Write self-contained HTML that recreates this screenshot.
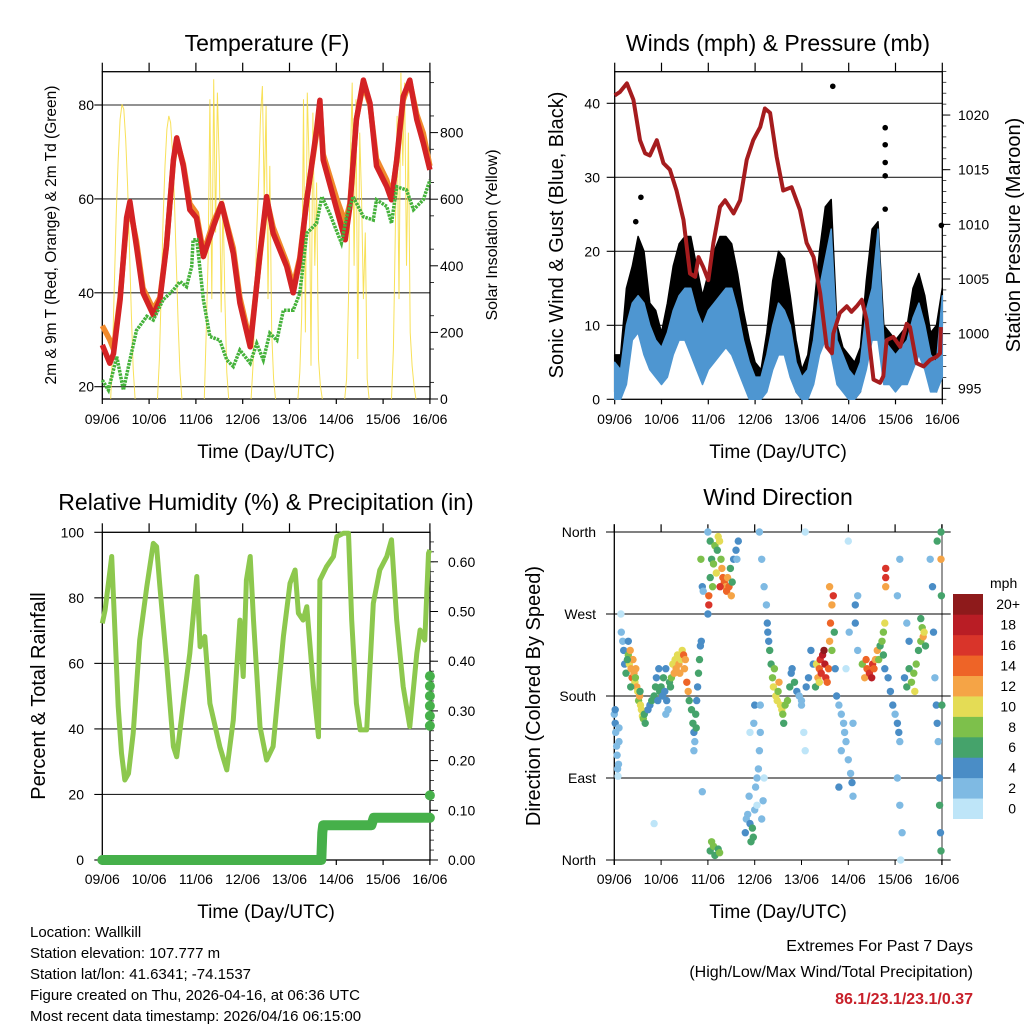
<!DOCTYPE html>
<html><head><meta charset="utf-8"><style>
html,body{margin:0;padding:0;background:#fff;}
svg text{font-family:"Liberation Sans",Arial,sans-serif;fill:#000;}
</style></head><body>
<svg id="s" width="1024" height="1024" viewBox="0 0 1024 1024" xmlns="http://www.w3.org/2000/svg">
<text x="267" y="51" font-size="23" text-anchor="middle">Temperature (F)</text>
<text x="778" y="51" font-size="23" text-anchor="middle">Winds (mph) &amp; Pressure (mb)</text>
<text x="266" y="510" font-size="23" text-anchor="middle">Relative Humidity (%) &amp; Precipitation (in)</text>
<text x="778" y="505" font-size="23" text-anchor="middle">Wind Direction</text>
<text x="266" y="458" font-size="19" text-anchor="middle">Time (Day/UTC)</text>
<text x="778" y="458" font-size="19" text-anchor="middle">Time (Day/UTC)</text>
<text x="266" y="918" font-size="19" text-anchor="middle">Time (Day/UTC)</text>
<text x="778" y="918" font-size="19" text-anchor="middle">Time (Day/UTC)</text>
<text transform="translate(56,235) rotate(-90)" font-size="15.5" text-anchor="middle">2m &amp; 9m T (Red, Orange) &amp; 2m Td (Green)</text>
<text transform="translate(497,235) rotate(-90)" font-size="16" text-anchor="middle">Solar Insolation (Yellow)</text>
<text transform="translate(563,235) rotate(-90)" font-size="20" text-anchor="middle">Sonic Wind &amp; Gust (Blue, Black)</text>
<text transform="translate(1020,235) rotate(-90)" font-size="20" text-anchor="middle">Station Pressure (Maroon)</text>
<text transform="translate(45,696) rotate(-90)" font-size="20" text-anchor="middle">Percent &amp; Total Rainfall</text>
<text transform="translate(540,696) rotate(-90)" font-size="20" text-anchor="middle">Direction (Colored By Speed)</text>
<g font-size="15">
<text x="30" y="937">Location: Wallkill</text>
<text x="30" y="958">Station elevation: 107.777 m</text>
<text x="30" y="979">Station lat/lon: 41.6341; -74.1537</text>
<text x="30" y="1000">Figure created on Thu, 2026-04-16, at 06:36 UTC</text>
<text x="30" y="1021">Most recent data timestamp: 2026/04/16 06:15:00</text>
</g>
<g font-size="16" text-anchor="end">
<text x="973" y="951">Extremes For Past 7 Days</text>
<text x="973" y="977">(High/Low/Max Wind/Total Precipitation)</text>
<text x="973" y="1004" font-weight="bold" style="fill:#C8202A">86.1/23.1/23.1/0.37</text>
</g>
</svg>
<script>
// ---- data ----
const dayLabels=["09/06","10/06","11/06","12/06","13/06","14/06","15/06","16/06"];
const tDays=[0,0.16,0.24,0.38,0.52,0.59,0.73,0.87,1.09,1.23,1.37,1.52,1.59,1.73,1.87,2.01,2.16,2.37,2.55,2.80,2.94,3.16,3.23,3.37,3.51,3.65,3.94,4.08,4.22,4.37,4.58,4.65,4.72,5.01,5.19,5.29,5.43,5.58,5.72,5.86,6.08,6.18,6.29,6.43,6.57,6.72,6.86,7.0];
const tRed=[28.9,25,27,38.5,56,59.4,49.8,40,35.3,38.5,49.8,68.3,73,67,57.7,56,47.7,54,59,48.4,37.8,28.5,35,48.4,60.5,52.7,45.6,40,47,59.8,74.7,81,68.3,57.7,51.3,58.4,76.9,85.3,80.4,67,62.6,59.8,68.3,81.8,85.3,76.9,71.9,66.2];
const tOrange=[33,30,28,39,55,58,51,41,36.5,39,50,68,72.5,67.5,59,57,48.5,55,59,49.5,39,29.5,35.5,48,60,54,46.5,41.5,47.5,60,74,80,69.5,60,55,59,77,84.5,80,68.5,64,60.5,68,81,85,78,74,67];
const tdDays=[0,0.13,0.31,0.45,0.59,0.73,0.95,1.09,1.30,1.52,1.66,1.80,1.91,1.94,2.02,2.16,2.30,2.51,2.66,2.80,2.94,3.16,3.30,3.44,3.58,3.73,3.87,4.08,4.22,4.37,4.58,4.69,4.86,5.11,5.22,5.36,5.58,5.79,5.86,6.08,6.18,6.29,6.50,6.65,6.86,7.0];
const tdVals=[21.4,19.3,26.4,19.3,25.7,32,35,34.2,38.5,40.6,42.4,41.3,45.6,51.3,51.3,38.5,30.7,29.9,25.7,24.3,27.8,25,29.2,25.7,31.4,29.9,36.3,36.3,39.9,52.7,54.8,60.5,56.9,50.6,56.2,60.5,56.2,55.5,59.8,58.4,54.8,62.6,61.9,57.7,59.8,64];
const solarFrac=[0.18,0.22,0.26,0.30,0.34,0.38,0.42,0.46,0.50,0.54,0.58,0.62,0.66,0.70];
const solarD0=[0,150,360,560,720,840,885,870,780,640,460,260,90,0];
const solarD1=[0,120,330,540,700,810,850,830,740,600,420,230,80,0];
const solarD2=[0,200,420,900,300,960,500,920,700,260,600,300,80,0];
const solarD3=[0,100,280,500,650,850,940,600,880,300,700,200,60,0];
const solarD4=[0,80,250,900,200,920,700,100,860,400,650,120,40,0];
const solarD5=[0,60,300,700,950,400,900,120,800,600,300,500,60,0];
const solarD6=[0,150,500,850,300,980,700,950,400,800,200,100,40,0];
const presDays=[0,.11,.26,.40,.54,.65,.75,.90,1.04,1.18,1.32,1.47,1.61,1.72,1.79,1.89,2.00,2.11,2.25,2.36,2.54,2.68,2.82,2.96,3.11,3.21,3.32,3.46,3.60,3.78,3.96,4.10,4.25,4.39,4.53,4.64,4.67,4.81,4.96,5.06,5.17,5.28,5.38,5.53,5.67,5.74,5.81,5.95,6.10,6.24,6.31,6.45,6.60,6.74,6.88,6.95,6.97];
const presVals=[1021.8,1022.1,1022.9,1021.4,1017.7,1016.5,1016.3,1017.7,1015.6,1015,1013.1,1010.4,1005.5,1005.2,1007,1006.1,1004.9,1008.3,1011.6,1012.2,1011,1012.2,1015.9,1017.7,1018.9,1020.6,1020.2,1016.2,1013.1,1013.4,1011.3,1008.3,1007,1003.7,998.8,998.2,1000,1001.9,1002.5,1002,1002.5,1003.1,1001.3,995.8,995.5,996.1,999.4,999.7,998.8,1000.9,1000.6,997.3,997,997.6,997.9,998.2,1000.6];
// 3-hourly wind samples
const windMin=[0,0,2,8,9,6,4,3,2,3,6,8,8,6,4,2,4,5,6,7,6,4,2,0,0,0,1,4,6,6,3,1,0,0,2,6,8,6,2,1,0,0,1,4,8,8,2,2,1,2,2,4,6,4,1,1,3];
const windMax=[5,4,10,13,14,13,10,8,7,9,12,14,15,15,12,10,12,13,14,15,15,12,8,5,3,3,6,10,13,12,10,5,3,4,8,15,19,23,8,6,4,3,5,12,15,23,8,7,6,7,8,11,13,10,6,5,14];
const gustMax=[6,6,15,18,22,20,13,12,9,13,18,21,22,22,18,14,17,20,22,22,21,17,12,8,5,4,9,16,20,19,14,8,4,6,12,20,26,27,10,7,6,5,7,16,23,24,10,9,8,9,10,15,17,14,9,10,15];
const gustOutDays=[4.66,5.78,5.78,5.78,5.78,5.78,0.56,6.98,0.45];
const gustOutVals=[42.3,36.7,34.4,32,30.2,25.7,27.3,23.5,24];
const rhDays=[0,.06,.13,.20,.27,.34,.41,.48,.56,.66,.80,.95,1.09,1.16,1.23,1.37,1.52,1.59,1.73,1.87,2.02,2.09,2.19,2.30,2.51,2.66,2.80,2.94,3.01,3.08,3.16,3.23,3.37,3.51,3.65,3.87,4.01,4.12,4.19,4.29,4.37,4.51,4.62,4.65,4.79,4.94,5.01,5.15,5.26,5.33,5.43,5.51,5.65,5.79,5.93,6.08,6.18,6.29,6.43,6.57,6.72,6.79,6.89,6.97,7.0];
const rhVals=[72.2,76.3,84.4,92.6,70.2,46.8,32.6,24.4,26.4,38.7,67.1,83.4,96.6,95.6,83.4,61,34.6,31.5,47.8,63,86.5,65.1,68.2,47.8,34.6,27.5,42.7,73.2,56,85.4,92.6,73.2,40.7,30.5,34.6,68.2,84.4,88.5,75.3,73.2,77.3,52.9,37.6,85.4,89.5,92.6,98.7,99.7,99.7,73.2,47.8,39.7,39.7,78.3,88.5,92.6,97.7,73.2,52.9,40.7,63,70.2,67.1,93.6,94.6];
const rainDays=[0,4.68,4.70,4.72,5.75,5.80,7.0];
const rainVals=[0,0,0.055,0.07,0.07,0.085,0.085];
const rainEndVals=[0.13,0.27,0.29,0.31,0.33,0.35,0.37];
const speedColors=["#BEE5F8","#7FBAE3","#4A8DC6","#45A36B","#7DC04B","#E4DC55","#F5A446","#EE6427","#D9342A","#B91D25","#8E1A1B"];
const cbLabels=["0","2","4","6","8","10","12","14","16","18","20+"];
const dirPts=[[0,160,3],[.02,150,4],[.03,140,3],[.05,125,2],[.06,115,2],[.07,100,2],[.08,92,1],[.09,105,2],[.1,130,2],[.1,145,3],[.02,165,4],[.14,270,1],[.15,250,2],[.18,240,3],[.2,230,4],[.22,215,5],[.25,205,6],
[.3,225,8],[.32,215,10],[.34,230,12],[.36,210,12],[.38,200,14],[.4,220,13],[.42,205,12],[.44,195,11],[.46,210,13],[.48,190,12],[.5,185,10],[.52,175,9],[.54,180,12],[.56,170,11],[.58,165,10],[.6,158,10],[.62,155,9],[.64,160,7],[.66,150,7],[.35,190,6],[.45,200,8],[.55,185,7],[.3,240,5],[.28,220,6],
[.72,165,5],[.76,170,4],[.8,175,6],[.85,180,7],[.88,190,6],[.9,200,4],[.93,175,5],[.97,185,6],[1.0,190,7],[1.03,180,5],[1.05,200,6],[1.08,185,4],[1.1,210,4],[1.12,175,5],[1.15,165,3],[1.18,195,6],[1.2,190,7],[.95,210,4],[1.1,160,3],[.85,40,1],
[1.22,200,8],[1.25,215,10],[1.28,205,12],[1.3,220,11],[1.32,210,12],[1.35,225,10],[1.38,215,12],[1.4,205,13],[1.42,220,11],[1.45,230,10],[1.48,225,14],[1.5,210,13],[1.52,220,12],[1.55,195,14],[1.58,185,13],[1.6,175,7],
[1.65,165,6],[1.68,150,6],[1.7,140,5],[1.72,130,3],[1.74,160,7],[1.76,175,4],[1.78,190,5],[1.8,205,6],[1.82,220,7],[1.84,235,5],[1.86,240,4],[1.75,145,7],[1.7,120,2],[1.85,330,8],[1.88,300,4],[1.9,295,2],[1.88,75,3],
[2.0,360,3],[2.05,350,6],[2.08,330,7],[2.1,300,8],[2.05,310,6],[2.02,290,14],[2.02,280,16],[2.0,270,4],[2.15,345,8],[2.2,340,7],[2.22,355,10],[2.25,350,10],[2.28,330,9],[2.3,320,12],[2.32,310,15],[2.35,305,14],[2.38,300,12],[2.4,295,14],[2.42,310,13],[2.45,300,14],[2.5,290,12],[2.48,320,7],[2.12,325,9],[2.18,315,10],[2.26,300,17],[2.52,305,6],[2.55,330,5],[2.6,340,4],[2.65,350,4],[2.62,330,3],
[2.05,10,7],[2.08,20,8],[2.12,15,8],[2.15,5,7],[2.22,12,7],[2.25,8,8],
[2.8,30,4],[2.82,45,3],[2.85,50,2],[2.88,70,3],[2.9,40,5],[2.92,20,6],[2.95,35,7],[2.97,25,6],[3.0,55,2],[3.02,80,2],[3.05,90,3],[3.08,100,2],[3.1,120,2],[3.12,140,2],[3.05,60,1],[3.15,45,2],[3.18,65,2],[2.98,150,2],[3.0,170,4],[2.9,140,1],[3.2,90,1],[3.12,170,2],
[3.1,360,2],[3.15,330,2],[3.2,300,3],[3.25,280,3],[3.27,260,4],[3.3,240,4],[3.32,230,6],[3.28,250,5],
[3.35,215,7],[3.38,200,8],[3.4,190,10],[3.45,180,11],[3.48,175,10],[3.5,185,9],[3.55,170,10],[3.58,165,11],[3.6,160,8],[3.62,150,7],[3.65,170,9],[3.7,175,8],[3.75,190,6],[3.78,205,5],[3.8,210,4],[3.85,195,7],[3.42,210,8],[3.52,195,12],
[3.9,185,4],[3.95,180,3],[4.0,175,2],[4.05,140,1],[4.08,120,1],[4.1,190,4],[4.15,200,5],[4.2,230,4],[4.25,215,5],[4.3,190,6],[4.08,360,1],[4.0,170,3],
[4.32,215,10],[4.35,200,12],[4.38,210,14],[4.4,220,16],[4.42,205,17],[4.45,225,18],[4.48,230,20],[4.5,215,19],[4.52,200,16],[4.55,195,14],[4.58,210,15],[4.6,240,12],[4.62,260,14],[4.65,280,13],[4.68,290,16],[4.6,300,12],[4.7,250,6],[4.72,210,5],[4.38,195,10],[4.65,230,8],
[4.75,180,4],[4.8,170,3],[4.85,160,3],[4.9,150,2],[4.92,140,3],[4.95,130,2],[5.0,110,2],[5.05,95,3],[5.08,85,4],[5.1,70,3],[4.85,120,2],[4.8,80,4],[5.0,350,1],[5.02,250,2],[5.15,280,4],[5.2,290,3],[5.15,260,4],[5.2,230,3],[4.95,210,1],[5.1,150,2],
[5.3,215,8],[5.35,200,12],[5.38,220,14],[5.4,210,15],[5.45,205,16],[5.5,200,18],[5.52,215,16],[5.55,210,14],[5.58,220,13],[5.62,230,12],[5.65,220,9],[5.68,235,7],[5.72,240,8],[5.75,225,6],[5.78,210,5],[5.8,320,17],[5.8,310,16],[5.8,300,12],[5.78,260,10],[5.75,250,8],
[5.85,200,4],[5.9,185,5],[5.95,170,4],[6.0,160,3],[6.05,150,4],[6.08,140,4],[6.1,130,3],[6.05,90,2],[6.1,60,2],[6.15,30,2],[6.12,0,1],[6.1,330,2],[6.05,290,3],
[6.2,200,5],[6.25,190,6],[6.3,210,7],[6.35,195,8],[6.4,205,9],[6.42,185,10],[6.45,215,8],[6.5,230,7],[6.55,240,8],[6.58,255,9],[6.6,245,12],[6.62,250,11],[6.65,235,6],[6.3,240,4],[6.25,260,3],[6.55,265,7],
[6.75,330,2],[6.8,300,4],[6.82,250,4],[6.85,200,3],[6.88,170,4],[6.9,150,5],[6.92,130,3],[6.95,90,4],[6.95,60,6],[6.97,30,5],[6.98,10,7],[6.98,330,13],[6.99,290,7],[7.0,170,6],[6.9,350,7],[6.98,360,6]];

// ---- scales ----
const DW=46.8;
const x1=d=>102.3+d*DW;
const yT=t=>386.7-(t-20)*4.695;
const ySol=s=>399-s*0.333;
const x2=d=>614.7+d*DW;
const yW=w=>399.3-w*7.4;
const yP=p=>388.3-(p-995)*10.93;
const yRH=r=>860-r*3.277;
const yRain=v=>860-v*497;
const x4=d=>614.3+d*DW;
const yD=g=>860-g*0.9111;

const S=document.getElementById('s');
const NS='http://www.w3.org/2000/svg';
function mk(tag,attrs,parent){const e=document.createElementNS(NS,tag);for(const k in attrs)e.setAttribute(k,attrs[k]);(parent||S).appendChild(e);return e;}
function grp(){const g=document.createElementNS(NS,'g');S.appendChild(g);return g;}
function pathOf(xs,ys,fx,fy){return xs.map((d,i)=>(i?'L':'M')+fx(d).toFixed(1)+','+fy(ys[i]).toFixed(1)).join('');}

function frame(name,L,R,T,B,box){
  const g=grp();
  
  
  if(box) mk('rect',{x:L,y:T,width:R-L,height:B-T,fill:'none',stroke:'#000','stroke-width':1.3},g);
  return g;
}
function xTicks(g,fx,T,B,lblY){
  dayLabels.forEach((l,i)=>{
    const x=fx(i);
    mk('line',{x1:x,x2:x,y1:T-9,y2:T,stroke:'#000','stroke-width':1.2},g);
    mk('line',{x1:x,x2:x,y1:B,y2:B+5,stroke:'#000','stroke-width':1.2},g);
    const t=mk('text',{x:x,y:lblY,'font-size':14,'text-anchor':'middle'},g);
    t.textContent=l;
    
    
  });
}
function hGrid(g,ys,L,R){ys.forEach(y=>mk('line',{x1:L,x2:R,y1:y,y2:y,stroke:'#000','stroke-width':1.1,opacity:0.85},g));}
function yLabels(g,vals,fy,x,anchor,L,side){
  vals.forEach(v=>{
    const y=fy(+v);
    const t=mk('text',{x:x,y:y+5,'font-size':14,'text-anchor':anchor},g);
    t.textContent=v;
    
    
    mk('line',{x1:L,x2:L+side*8,y1:y,y2:y,stroke:'#000','stroke-width':1.1},g);
  });
}

// ===== Panel 1: Temperature =====
(function(){
  const L=102.3,R=430,T=71.7,B=399;
  const g=frame('temperature-panel',L,R,T,B,true);
  hGrid(g,[20,40,60,80].map(yT),L,R);
  xTicks(g,x1,T,B,424);
  yLabels(g,['20','40','60','80'],yT,94,'end',L,-1);
  ['0','200','400','600','800'].forEach(v=>{const y=ySol(+v);const t=mk('text',{x:440,y:y+5,'font-size':14},g);t.textContent=v;mk('line',{x1:R,x2:R+8,y1:y,y2:y,stroke:'#000'},g);});
  for(let s=50;s<980;s+=100){mk('line',{x1:R,x2:R+4,y1:ySol(s),y2:ySol(s),stroke:'#000','stroke-width':0.8},g);}
  const days=[solarD0,solarD1,solarD2,solarD3,solarD4,solarD5,solarD6];
  days.forEach((arr,di)=>{
    const p=mk('path',{d:pathOf(solarFrac.map(f=>di+f),arr,x1,ySol),fill:'none',stroke:'#F7DC3C','stroke-width':1,opacity:0.85},g);
    
    
  });
  const o=mk('path',{d:pathOf(tDays,tOrange,x1,yT),fill:'none',stroke:'#F08A2C','stroke-width':5.5,'stroke-linejoin':'round'},g);
  
  
  const r=mk('path',{d:pathOf(tDays,tRed,x1,yT),fill:'none',stroke:'#D42224','stroke-width':5.5,'stroke-linejoin':'round'},g);
  
  
  const d=mk('path',{d:pathOf(tdDays,tdVals,x1,yT),fill:'none',stroke:'#45B23B','stroke-width':3.5,'stroke-dasharray':'2.5 1'},g);
  
  
})();

// ===== Panel 2: Winds =====
(function(){
  const L=614.7,R=942.3,T=71.7,B=399.3;
  const g=frame('winds-panel',L,R,T,B,true);
  hGrid(g,[10,20,30,40].map(yW),L,R);
  xTicks(g,x2,T,B,424);
  yLabels(g,['0','10','20','30','40'],yW,600,'end',L,-1);
  ['995','1000','1005','1010','1015','1020'].forEach(v=>{const y=yP(+v);const t=mk('text',{x:958,y:y+5,'font-size':14},g);t.textContent=v;mk('line',{x1:R,x2:R+8,y1:y,y2:y,stroke:'#000'},g);});
  for(let p=994;p<=1024;p++){mk('line',{x1:R,x2:R+4,y1:yP(p),y2:yP(p),stroke:'#000','stroke-width':0.7},g);}
  const n=windMin.length;const tt=windMin.map((_,i)=>i/8);
  let dG='';tt.forEach((d,i)=>{dG+=(i?'L':'M')+x2(d).toFixed(1)+','+yW(gustMax[i]).toFixed(1);});
  for(let i=n-1;i>=0;i--)dG+='L'+x2(tt[i]).toFixed(1)+','+yW(Math.max(windMin[i],windMax[i]-4)).toFixed(1);
  const gb=mk('path',{d:dG+'Z',fill:'#000',stroke:'#000','stroke-width':1.5,'stroke-linejoin':'round'},g);
  
  
  let dB='';tt.forEach((d,i)=>{dB+=(i?'L':'M')+x2(d).toFixed(1)+','+yW(windMax[i]).toFixed(1);});
  for(let i=n-1;i>=0;i--)dB+='L'+x2(tt[i]).toFixed(1)+','+yW(windMin[i]).toFixed(1);
  const bb=mk('path',{d:dB+'Z',fill:'#4E96D1',stroke:'#4E96D1','stroke-width':1.5,'stroke-linejoin':'round'},g);
  
  
  gustOutDays.forEach((d,i)=>{const c=mk('circle',{cx:x2(d),cy:yW(gustOutVals[i]),r:2.8,fill:'#000'},g);});
  const p=mk('path',{d:pathOf(presDays,presVals,x2,yP),fill:'none',stroke:'#A51C1E','stroke-width':4,'stroke-linejoin':'round'},g);
  
  
})();

// ===== Panel 3: RH =====
(function(){
  const L=102.3,R=430,T=532.3,B=860;
  const g=frame('humidity-panel',L,R,T,B,true);
  hGrid(g,[20,40,60,80].map(yRH),L,R);
  xTicks(g,x1,T,B,884);
  yLabels(g,['0','20','40','60','80','100'],yRH,84,'end',L,-1);
  ['0.00','0.10','0.20','0.30','0.40','0.50','0.60'].forEach(v=>{const y=yRain(+v);const t=mk('text',{x:448,y:y+5,'font-size':14},g);t.textContent=v;mk('line',{x1:R,x2:R+8,y1:y,y2:y,stroke:'#000'},g);});
  for(let v=0.02;v<0.66;v+=0.02){mk('line',{x1:R,x2:R+4,y1:yRain(v),y2:yRain(v),stroke:'#000','stroke-width':0.7},g);}
  const h=mk('path',{d:pathOf(rhDays,rhVals,x1,yRH),fill:'none',stroke:'#8DC84E','stroke-width':5,'stroke-linejoin':'round'},g);
  
  
  const rn=mk('path',{d:pathOf(rainDays,rainVals,x1,yRain),fill:'none',stroke:'#46B04A','stroke-width':10,'stroke-linecap':'round','stroke-linejoin':'round'},g);
  
  
  rainEndVals.forEach(v=>{const c=mk('circle',{cx:x1(7),cy:yRain(v),r:5,fill:'#46B04A'},g);});
})();

// ===== Panel 4: Wind direction =====
(function(){
  const L=614.3,R=942,T=532.3,B=860;
  const g=frame('wind-direction-panel',L,R,T,B,false);
  mk('line',{x1:L,x2:L,y1:T-8,y2:B+5,stroke:'#000','stroke-width':1.3},g);
  mk('line',{x1:R,x2:R,y1:T-8,y2:B+5,stroke:'#777','stroke-width':1.5},g);
  const names=['North','East','South','West','North'];
  [0,90,180,270,360].forEach((v,i)=>{const y=yD(v);mk('line',{x1:606,x2:950.7,y1:y,y2:y,stroke:'#000','stroke-width':1.1},g);const t=mk('text',{x:596,y:y+5,'font-size':14,'text-anchor':'end'},g);t.textContent=names[i];});
  dayLabels.forEach((l,i)=>{const x=x4(i);mk('line',{x1:x,x2:x,y1:T-8,y2:T,stroke:'#000','stroke-width':1.2},g);mk('line',{x1:x,x2:x,y1:B,y2:B+5,stroke:'#000'},g);const t=mk('text',{x:x,y:884,'font-size':14,'text-anchor':'middle'},g);t.textContent=l;});
  dirPts.forEach(pt=>{
    const ci=Math.min(10,Math.floor(pt[2]/2));
    const c=mk('circle',{cx:x4(pt[0]).toFixed(1),cy:yD(pt[1]).toFixed(1),r:3.7,fill:speedColors[ci]},g);
    
    
  });
  const cb=grp();
  
  
  const bh=(818.7-594)/11;
  speedColors.forEach((c,i)=>{const y=818.7-(i+1)*bh;mk('rect',{x:953,y:y,width:30,height:bh+0.3,fill:c},cb);const t=mk('text',{x:i==10?1020:1016,y:y+bh/2+5,'font-size':14,'text-anchor':'end'},cb);t.textContent=cbLabels[i];});
  const u=mk('text',{x:990,y:588,'font-size':14},cb);u.textContent='mph';
  
  
})();
</script>
</body></html>
